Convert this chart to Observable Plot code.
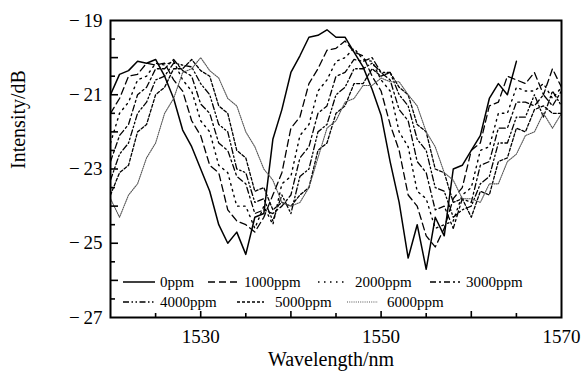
<!DOCTYPE html>
<html><head><meta charset="utf-8">
<script src="https://cdn.jsdelivr.net/npm/d3@7"></script>
<script src="https://cdn.jsdelivr.net/npm/@observablehq/plot@0.6"></script>
<style>body{margin:0;background:#fff}</style>
</head><body><div id="chart"></div>
<script>
const wavelengths = [1520,1521,1522,1523,1524,1525,1526,1527,1528,1529,1530,1531,1532,1533,1534,1535,1536,1537,1538,1539,1540,1541,1542,1543,1544,1545,1546,1547,1548,1549,1550,1551,1552,1553,1554,1555,1556,1557,1558,1559,1560,1561,1562,1563,1564,1565,1566,1567,1568,1569,1570];

const ppm0 = [-21.0,-20.45,-20.35,-20.1,-20.15,-20.05,-20.5,-21.1,-21.95,-22.4,-23.0,-23.6,-24.5,-25.0,-24.7,-25.3,-24.3,-24.2,-22.2,-21.4,-20.4,-19.95,-19.45,-19.4,-19.25,-19.45,-19.45,-19.85,-20.25,-20.85,-21.55,-22.8,-23.9,-25.4,-24.5,-25.7,-24.3,-24.8,-23.0,-22.9,-22.5,-22.1,-21.1,-20.7,-21.0,-20.1];
const ppm1000 = [-21.5,-21.1,-20.5,-20.45,-20.15,-20.2,-20.15,-20.6,-20.9,-21.7,-22.1,-22.9,-23.1,-24.1,-24.4,-24.5,-24.7,-24.3,-23.7,-23.1,-21.9,-21.6,-20.7,-20.3,-19.8,-19.75,-19.55,-19.85,-19.95,-20.5,-20.9,-21.8,-22.5,-23.7,-24.0,-24.8,-25.1,-24.6,-23.8,-23.5,-22.5,-22.3,-21.3,-21.2,-20.5,-20.6,-20.7,-20.4,-21.0,-20.3,-20.8];
const ppm2000 = [-22.3,-21.5,-21.2,-20.6,-20.5,-20.15,-20.2,-20.1,-20.6,-20.9,-21.7,-22.0,-22.9,-23.1,-24.0,-24.0,-24.6,-24.0,-24.5,-23.4,-23.2,-22.1,-21.8,-20.9,-20.6,-20.1,-20.0,-19.75,-20.05,-20.1,-20.6,-20.9,-22.0,-22.4,-23.6,-23.8,-24.6,-24.5,-24.4,-23.7,-23.5,-22.5,-22.4,-21.5,-21.5,-20.8,-20.9,-20.9,-20.7,-21.1,-20.8];
const ppm3000 = [-22.8,-22.1,-21.8,-21.0,-20.8,-20.3,-20.3,-20.05,-20.35,-20.5,-21.25,-21.5,-22.3,-22.5,-23.2,-23.4,-24.2,-24.1,-24.2,-24.0,-23.7,-22.7,-22.4,-21.5,-21.3,-20.5,-20.4,-20.05,-20.1,-20.0,-20.4,-20.6,-21.4,-21.7,-22.8,-23.1,-24.1,-24.0,-24.6,-23.8,-23.9,-22.9,-22.8,-21.9,-21.9,-21.2,-21.2,-21.3,-21.0,-21.3,-20.9];
const ppm4000 = [-23.3,-22.6,-22.3,-21.5,-21.2,-20.6,-20.5,-20.15,-20.2,-20.25,-20.7,-21.0,-21.8,-22.0,-23.0,-23.1,-23.9,-23.8,-24.4,-23.7,-24.2,-23.2,-23.0,-22.0,-21.8,-21.0,-20.8,-20.3,-20.3,-20.15,-20.4,-20.4,-21.0,-21.3,-22.2,-22.5,-23.5,-23.6,-24.3,-24.1,-24.0,-23.4,-23.2,-22.3,-22.3,-21.6,-21.6,-21.0,-21.6,-20.9,-21.3];
const ppm5000 = [-23.7,-23.1,-22.9,-22.0,-21.8,-21.0,-20.8,-20.3,-20.3,-20.05,-20.35,-20.5,-21.3,-21.5,-22.5,-22.7,-23.6,-23.5,-24.1,-23.9,-24.0,-23.7,-23.5,-22.5,-22.3,-21.5,-21.3,-20.7,-20.7,-20.3,-20.5,-20.4,-20.8,-21.0,-21.8,-22.0,-23.0,-23.1,-23.9,-23.8,-24.3,-23.6,-23.7,-22.8,-22.7,-21.9,-22.0,-21.4,-21.3,-21.5,-21.5];
const ppm6000 = [-23.8,-24.3,-23.7,-23.4,-22.7,-22.3,-21.5,-21.1,-20.4,-20.3,-20.0,-20.35,-20.55,-21.1,-21.3,-22.0,-22.4,-23.0,-23.3,-23.9,-24.0,-23.9,-23.5,-22.7,-21.9,-21.7,-21.2,-21.1,-20.75,-20.75,-20.55,-20.65,-20.65,-21.0,-21.3,-22.0,-22.4,-23.1,-23.3,-23.8,-23.8,-23.9,-23.4,-23.4,-22.8,-22.6,-22.1,-22.0,-21.5,-21.9,-21.5];

const seriesNames = ["0ppm","1000ppm","2000ppm","3000ppm","4000ppm","5000ppm","6000ppm"];
const seriesValues = [ppm0, ppm1000, ppm2000, ppm3000, ppm4000, ppm5000, ppm6000];
const seriesDash = ["none","7,4","1.5,4.5","6,3,2,3","6,2.5,1.5,2.5,1.5,2.5","3,2","1,1.2"];
const seriesColor = ["#000","#000","#000","#000","#000","#000","#555"];
const seriesWidth = [1.5,1.3,1.4,1.3,1.3,1.3,1.1];

const xTicksLabeled = [1530,1550,1570];
const xTicksMajor = [1530,1540,1550,1560];
const xTicksMinor = [1525,1535,1545,1555,1565];
const yTicksLabeled = [-27,-25,-23,-21,-19];
const yTicksMajor = [-26,-25,-24,-23,-22,-21,-20];
const yTicksMinor = [-26.5,-25.5,-24.5,-23.5,-22.5,-21.5,-20.5,-19.5];

const xDomain = [1520,1570], yDomain = [-27,-19];
const W = 582, H = 378, mL = 110, mR = 21, mT = 20, mB = 61;
const nmPerPx = (xDomain[1]-xDomain[0])/(W-mL-mR);
const dbPerPx = (yDomain[1]-yDomain[0])/(H-mT-mB);
const serif = "'Liberation Serif','Times New Roman',serif";

const lineMarks = seriesValues.map((vals, i) =>
  Plot.line(vals.map((v, j) => ({wl: wavelengths[j], v})), {
    x: "wl", y: "v", stroke: seriesColor[i], strokeWidth: seriesWidth[i],
    strokeDasharray: seriesDash[i], clip: true
  })
);

const plot = Plot.plot({
  width: W, height: H,
  marginLeft: mL, marginRight: mR, marginTop: mT, marginBottom: mB,
  style: {fontFamily: serif, background: "#fff", color: "#000"},
  x: {domain: xDomain},
  y: {domain: yDomain},
  marks: [
    ...lineMarks,
    Plot.ruleY(yTicksMajor, {y: d => d, x1: xDomain[0], x2: xDomain[0] + 8*nmPerPx, stroke: "#000", strokeWidth: 1.6}),
    Plot.ruleY(yTicksMinor, {y: d => d, x1: xDomain[0], x2: xDomain[0] + 5*nmPerPx, stroke: "#000", strokeWidth: 1.6}),
    Plot.ruleX(xTicksMajor, {x: d => d, y1: yDomain[0], y2: yDomain[0] + 6*dbPerPx, stroke: "#000", strokeWidth: 1.6}),
    Plot.ruleX(xTicksMinor, {x: d => d, y1: yDomain[0], y2: yDomain[0] + 4*dbPerPx, stroke: "#000", strokeWidth: 1.6}),
    Plot.axisX(xTicksLabeled, {tickSize: 0, tickPadding: 12, fontSize: 19, label: null, tickFormat: d => String(d)}),
    Plot.axisY(yTicksLabeled, {tickSize: 0, tickPadding: 8, fontSize: 19, label: null,
      tickFormat: d => (d < 0 ? "\u2212\u2009" : "") + Math.abs(d)}),
    Plot.text(["Wavelength/nm"], {frameAnchor: "bottom", dy: 48, dx: -5, fontSize: 20, text: d => d}),
    Plot.text(["Intensity/dB"], {frameAnchor: "left", dx: -92, rotate: -90, fontSize: 20, text: d => d}),
    Plot.frame({stroke: "#000", strokeWidth: 2})
  ]
});

// legend inside plot area
const legendItems = [
  {row: 0, x1: 123, x2: 155, tx: 160},
  {row: 0, x1: 208, x2: 237, tx: 244},
  {row: 0, x1: 318, x2: 348, tx: 355},
  {row: 0, x1: 430, x2: 460, tx: 466},
  {row: 1, x1: 123, x2: 155, tx: 160},
  {row: 1, x1: 237, x2: 264, tx: 275},
  {row: 1, x1: 347, x2: 378, tx: 387}
];
const rowY = [282, 302];
const svg = d3.select(plot);
const lg = svg.append("g").attr("font-family", serif).attr("font-size", 15).attr("text-anchor", "start");
legendItems.forEach((it, i) => {
  lg.append("line").attr("x1", it.x1).attr("x2", it.x2).attr("y1", rowY[it.row]).attr("y2", rowY[it.row])
    .attr("stroke", seriesColor[i]).attr("stroke-width", seriesWidth[i])
    .attr("stroke-dasharray", seriesDash[i] === "none" ? null : seriesDash[i]);
  lg.append("text").attr("x", it.tx).attr("y", rowY[it.row]).attr("dy", "0.35em")
    .attr("text-anchor", "start").attr("fill", "#000").text(seriesNames[i]);
});

document.getElementById("chart").appendChild(plot);
</script>
</body></html>
